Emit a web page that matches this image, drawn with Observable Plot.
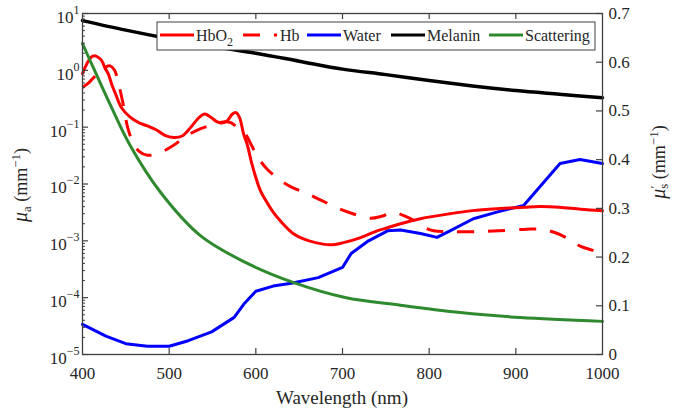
<!DOCTYPE html>
<html><head><meta charset="utf-8">
<script src="https://cdn.jsdelivr.net/npm/d3@7"></script>
<script src="https://cdn.jsdelivr.net/npm/@observablehq/plot@0.6"></script>
<style>body{margin:0;background:#fff}#chart{width:674px;height:409px}
svg text{font-family:"Liberation Serif","Times New Roman",Times,"DejaVu Serif",serif !important}</style>
</head><body><div id="chart"></div>
<script>
// ---- data ----
const hbo2Wl  = [400,405,410,414,418,422,426,430,434,438,445,455,465,475,485,495,505,515,525,535,541,548,555,561,567,573,577,581,586,590,595,600,605,610,620,630,643,655,670,686,700,721,740,752,767,790,824,850,882,910,928,950,975,1000];
const hbo2Val = [0.88,1.3,1.7,1.8,1.7,1.5,1.1,0.85,0.55,0.39,0.22,0.15,0.12,0.105,0.09,0.072,0.066,0.07,0.1,0.15,0.17,0.15,0.125,0.118,0.13,0.17,0.18,0.15,0.075,0.05,0.024,0.013,0.0078,0.0056,0.0032,0.0021,0.00135,0.00108,0.00092,0.00085,0.00092,0.00114,0.0015,0.0017,0.002,0.00245,0.003,0.0034,0.0037,0.0039,0.004,0.0039,0.0036,0.0034];

const hbWl  = [400,407,413,420,427,432,437,442,447,452,458,465,475,490,505,520,537,550,558,565,571,580,588,595,602,612,625,640,659,675,694,712,732,745,759,770,782,795,805,825,850,880,913,930,945,960,975,989,1000];
const hbVal = [0.5,0.6,0.75,0.95,1.15,1.2,1.0,0.55,0.25,0.1,0.055,0.038,0.032,0.036,0.048,0.07,0.095,0.11,0.12,0.125,0.12,0.095,0.075,0.048,0.03,0.019,0.0126,0.009,0.0068,0.0052,0.0038,0.003,0.0025,0.0027,0.0032,0.0028,0.0023,0.0017,0.0015,0.00145,0.00145,0.0015,0.0016,0.0016,0.0014,0.0011,0.0008,0.00068,0.0006];

const waterWl  = [400,415,427,450,475,500,522,549,575,587,600,620,641,672,700,710,730,752,767,790,809,824,851,878,909,925,951,974,1000];
const waterVal = [3.4e-5,2.6e-5,2.1e-5,1.55e-5,1.4e-5,1.4e-5,1.75e-5,2.5e-5,4.5e-5,8e-5,1.3e-4,1.6e-4,1.8e-4,2.25e-4,3.4e-4,6e-4,1e-3,1.5e-3,1.55e-3,1.35e-3,1.15e-3,1.5e-3,2.45e-3,3.2e-3,4.2e-3,8e-3,0.023,0.027,0.023];

const melWl  = [400,450,500,550,600,650,700,750,800,850,900,950,1000];
const melVal = [7.5,5.1,3.6,2.65,2.0,1.45,1.05,0.84,0.66,0.53,0.44,0.38,0.33];

const scatWl  = [400,415,432,455,490,536,588,643,703,767,836,905,1000];
const scatVal = [0.638,0.579,0.513,0.429,0.333,0.244,0.189,0.148,0.117,0.101,0.086,0.076,0.068];

const xTicks = [400,500,600,700,800,900,1000];
const yExps = [-5,-4,-3,-2,-1,0,1];
const scatTicks = [0,0.1,0.2,0.3,0.4,0.5,0.6,0.7];

// right axis (linear 0..0.7) mapped onto the left log axis (1e-5..1e1)
const S_MAX = 0.7, LOG_MIN = -5, LOG_SPAN = 6;
const toLeft = v => Math.pow(10, LOG_MIN + LOG_SPAN * v / S_MAX);

const rows = (wl, val) => wl.map((w, i) => ({w, v: val[i]}));
const hbo2 = rows(hbo2Wl, hbo2Val), hb = rows(hbWl, hbVal), water = rows(waterWl, waterVal),
      mel = rows(melWl, melVal), scat = rows(scatWl, scatVal).map(d => ({w: d.w, v: toLeft(d.v)}));

const yMajor = yExps.map(e => Math.pow(10, e));
const yMinor = [];
for (let e = -5; e < 1; e++) for (let k = 2; k <= 9; k++) yMinor.push(k * Math.pow(10, e));

const W = 674, H = 409, ML = 82, MR = 72, MT = 13, MB = 55;
const PW = W - ML - MR, PH = H - MT - MB;
const ink = "#262626";
const ff = "'Liberation Serif', 'Times New Roman', Times, 'DejaVu Serif', serif";

const plot = Plot.plot({
  width: W, height: H,
  marginLeft: ML, marginRight: MR, marginTop: MT, marginBottom: MB,
  style: {fontFamily: ff, fontSize: "17px", background: "#fff", color: ink},
  x: {domain: [400, 1000]},
  y: {type: "log", domain: [1e-5, 10]},
  marks: [
    Plot.line(water, {x: "w", y: "v", stroke: "#0000ff", strokeWidth: 3, curve: "linear"}),
    Plot.line(hb, {x: "w", y: "v", stroke: "#ff0000", strokeWidth: 3, strokeDasharray: "17,14", strokeLinecap: "butt", curve: "catmull-rom"}),
    Plot.line(hbo2, {x: "w", y: "v", stroke: "#ff0000", strokeWidth: 3, curve: "catmull-rom"}),
    Plot.line(mel, {x: "w", y: "v", stroke: "#000", strokeWidth: 3.5, curve: "catmull-rom"}),
    Plot.line(scat, {x: "w", y: "v", stroke: "#2f8a2f", strokeWidth: 3, curve: "catmull-rom"}),
    Plot.frame({stroke: "#404040", strokeWidth: 1.3}),
    Plot.tickX(xTicks.slice(1, -1), {x: d => d, insetTop: PH - 6, stroke: "#404040", strokeWidth: 1.2}),
    Plot.tickX(xTicks.slice(1, -1), {x: d => d, insetBottom: PH - 6, stroke: "#404040", strokeWidth: 1.2}),
    Plot.tickY(yMajor, {y: d => d, insetRight: PW - 6, stroke: "#404040", strokeWidth: 1.2}),
    Plot.tickY(yMinor, {y: d => d, insetRight: PW - 3, stroke: "#404040", strokeWidth: 1}),
    Plot.tickY(scatTicks, {y: d => toLeft(d), insetLeft: PW - 6, stroke: "#404040", strokeWidth: 1.2}),
    Plot.axisX({ticks: xTicks, tickSize: 0, tickPadding: 12, tickFormat: d => String(d), label: null, fontSize: 17}),
    Plot.axisY({ticks: yMajor, tickSize: 0, tickPadding: 3, tickFormat: d => "10^" + Math.round(Math.log10(d)), label: null, fontSize: 17}),
    Plot.text(scatTicks, {x: () => 1000, y: d => toLeft(d), text: d => String(d), textAnchor: "start", dx: 6, fontSize: 17, fill: ink})
  ]
});

const svg = d3.select(plot);
// superscript exponents on the log labels
svg.selectAll("text").each(function() {
  const t = d3.select(this);
  const s = t.text();
  if (s.startsWith("10^")) {
    const e = s.slice(3).replace("-", "\u2212");
    t.text(null);
    t.append("tspan").attr("dy", "4").text("10");
    t.append("tspan").attr("dy", "-9").attr("font-size", "12px").text(e);
  }
});

// x label
svg.append("text").attr("x", (ML + W - MR) / 2).attr("y", 404).attr("text-anchor", "middle")
  .attr("font-family", ff).attr("font-size", 19).attr("fill", ink).text("Wavelength (nm)");

// left y label
const ly = svg.append("text").attr("transform", "translate(27,185) rotate(-90)").attr("text-anchor", "middle")
  .attr("font-family", ff).attr("font-size", 18).attr("fill", ink);
ly.append("tspan").attr("font-style", "italic").attr("font-size", 20).text("\u03bc");
ly.append("tspan").attr("font-size", 13).attr("dy", 4).text("a");
ly.append("tspan").attr("dy", -4).text(" (mm");
ly.append("tspan").attr("font-size", 13).attr("dy", -7).text("\u22121");
ly.append("tspan").attr("dy", 7).text(")");

// right y label
const ry = svg.append("text").attr("transform", "translate(665,162) rotate(-90)").attr("text-anchor", "middle")
  .attr("font-family", ff).attr("font-size", 18).attr("fill", ink);
ry.append("tspan").attr("font-style", "italic").attr("font-size", 20).text("\u03bc");
ry.append("tspan").attr("font-size", 13).attr("dy", -6).text("\u2032");
ry.append("tspan").attr("font-size", 13).attr("dx", -3).attr("dy", 9).text("s");
ry.append("tspan").attr("dy", -3).text(" (mm");
ry.append("tspan").attr("font-size", 13).attr("dy", -7).text("\u22121");
ry.append("tspan").attr("dy", 7).text(")");

// legend
const lg = svg.append("g").attr("text-anchor", "start");
lg.append("rect").attr("x", 157).attr("y", 22).attr("width", 438).attr("height", 28)
  .attr("fill", "#fff").attr("stroke", "#404040").attr("stroke-width", 1);
const items = [
  {label: "HbO", sub: "2", color: "#ff0000", x1: 160, dash: null, tx: 196},
  {label: "Hb", color: "#ff0000", x1: 243, dash: "17,14", tx: 280},
  {label: "Water", color: "#0000ff", x1: 307, dash: null, tx: 343},
  {label: "Melanin", color: "#000", x1: 391, dash: null, tx: 427},
  {label: "Scattering", color: "#2f8a2f", x1: 489, dash: null, tx: 525}
];
for (const it of items) {
  lg.append("line").attr("x1", it.x1).attr("x2", it.x1 + 34).attr("y1", 35).attr("y2", 35)
    .attr("stroke", it.color).attr("stroke-width", 3).attr("stroke-dasharray", it.dash);
  const t = lg.append("text").attr("x", it.tx).attr("y", 41).attr("text-anchor", "start").attr("font-family", ff)
    .attr("font-size", 16).attr("fill", ink).text(it.label);
  if (it.sub) t.append("tspan").attr("font-size", 12).attr("dy", 5).text(it.sub);
}

document.getElementById("chart").appendChild(plot);
</script>
</body></html>
